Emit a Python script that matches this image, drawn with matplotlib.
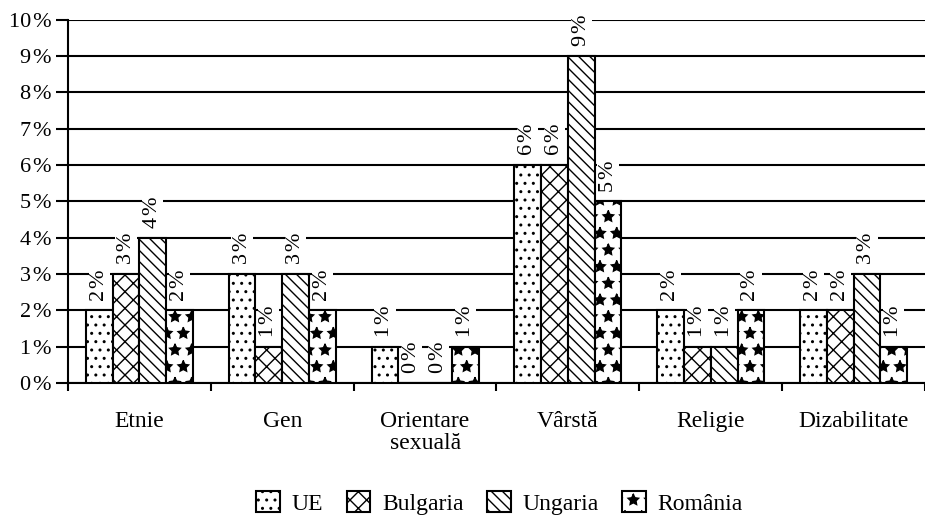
import matplotlib
matplotlib.use("Agg")
import matplotlib.pyplot as plt
import numpy as np

plt.rcParams['font.family'] = ['Liberation Serif', 'DejaVu Serif']
plt.rcParams['hatch.linewidth'] = 1.0

categories = ["Etnie", "Gen", "Orientare\nsexuală", "Vârstă", "Religie", "Dizabilitate"]
series = ["UE", "Bulgaria", "Ungaria", "România"]
ue = [2, 3, 1, 6, 2, 2]
bulgaria = [3, 1, 0, 6, 1, 2]
ungaria = [4, 3, 0, 9, 1, 3]
romania = [2, 2, 1, 5, 2, 1]
values = [ue, bulgaria, ungaria, romania]
hatches = ['..', 'xx', '\\\\\\', '*']
y_ticks = list(range(0, 11))

fig = plt.figure(figsize=(9.25, 5.23), dpi=100)
ax = fig.add_axes([0.0735, 0.268, 0.9265, 0.694])

n = len(series)
w = 0.1875
x = np.arange(len(categories))
for i, (name, vals, h) in enumerate(zip(series, values, hatches)):
    pos = x + (i - (n - 1) / 2) * w
    bars = ax.bar(pos, vals, width=w, facecolor='white', edgecolor='black',
                  hatch=h, linewidth=1.5, label=name, zorder=3)
    for b, v in zip(bars, vals):
        ax.annotate(f"{v}\u200a%", (b.get_x() + b.get_width() / 2, v),
                    xytext=(0, 7), textcoords='offset points',
                    rotation=90, ha='center', va='bottom', fontsize=16,
                    bbox=dict(boxstyle='square,pad=0.05', fc='white', ec='none'),
                    zorder=4)

ax.set_ylim(0, 10)
ax.set_xlim(-0.5, len(categories) - 0.5)
ax.set_yticks(y_ticks)
ax.set_yticklabels([f"{t}\u200a%" for t in y_ticks], fontsize=16)
ax.yaxis.grid(True, color='black', linewidth=1.5, zorder=0)
ax.set_axisbelow(True)
ax.set_xticks(x)
ax.set_xticklabels(categories, fontsize=17, linespacing=1.1)
ax.set_xticks(np.arange(len(categories) + 1) - 0.5, minor=True)
ax.tick_params(axis='x', which='major', length=0, pad=20)
ax.tick_params(axis='x', which='minor', length=6, width=1.5, direction='out')
ax.tick_params(axis='y', length=9, width=1.5, direction='out', pad=3)
for s in ['top', 'right']:
    ax.spines[s].set_visible(False)
for s in ['left', 'bottom']:
    ax.spines[s].set_linewidth(1.5)

leg = fig.legend(*ax.get_legend_handles_labels(), loc='center', bbox_to_anchor=(0.54, 0.038),
                 ncol=4, frameon=False, fontsize=17, handlelength=1.0, handleheight=1.0,
                 handletextpad=0.5, columnspacing=1.0)

fig.savefig("out.png", dpi=100)
